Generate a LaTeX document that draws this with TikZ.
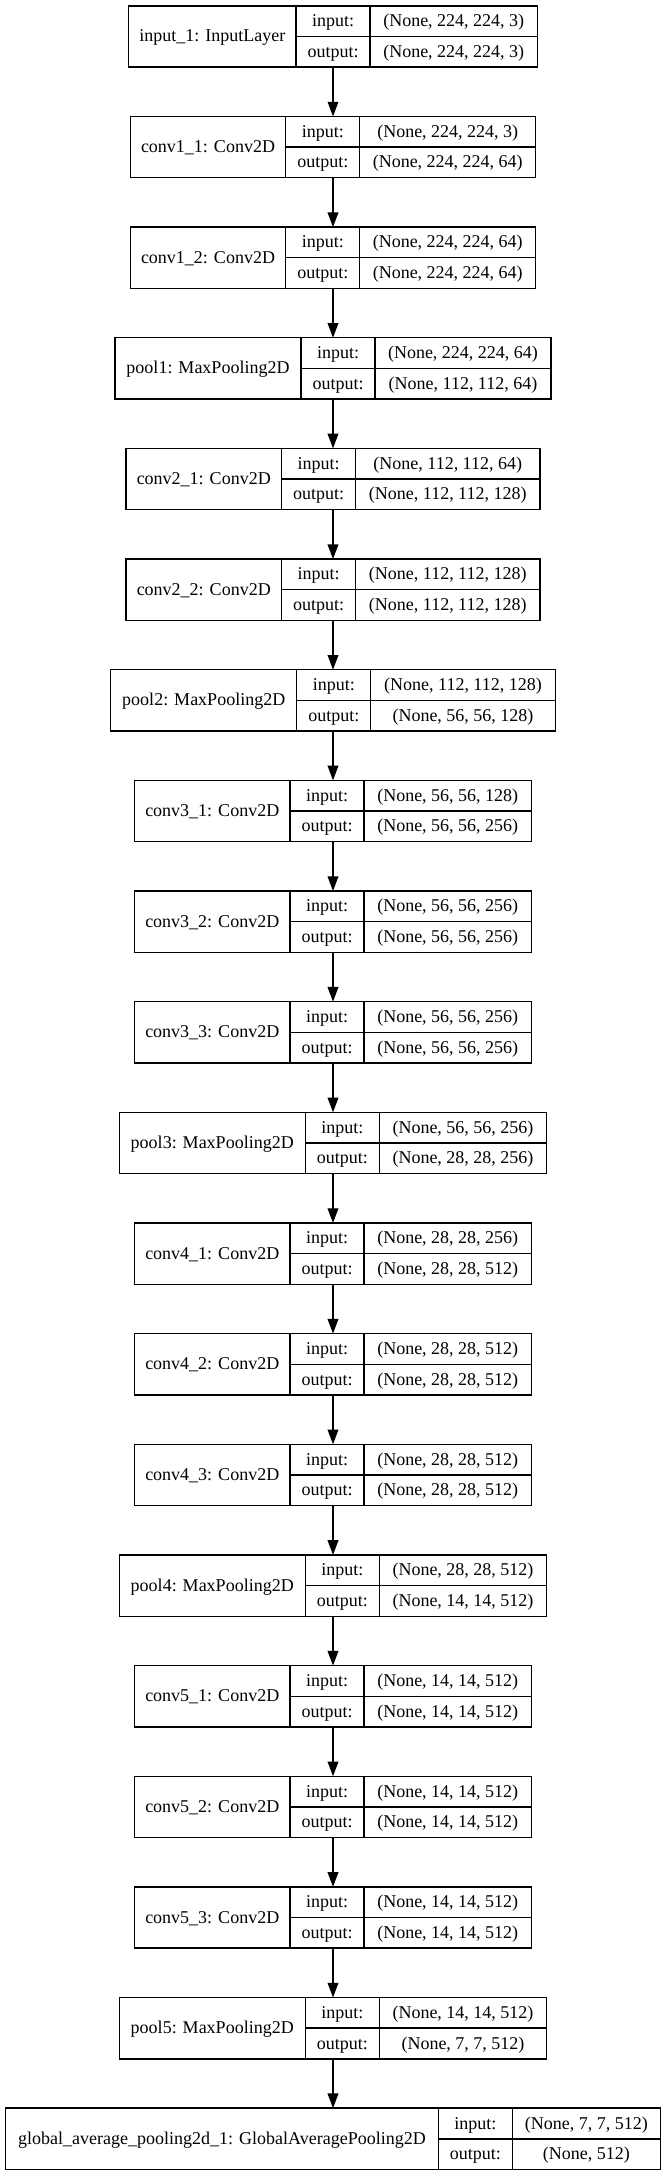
\documentclass[tikz,border=0pt]{standalone}
\usepackage{fontspec}
\setmainfont{Liberation Serif}
\usetikzlibrary{arrows.meta}

\begin{document}
\begin{tikzpicture}[x=1pt,y=-1pt,->,>={Triangle[length=14.7pt,width=10.7pt]},line width=1.4pt,
    font=\fontsize{18}{21.6}\selectfont,
    every node/.style={inner sep=0pt,outer sep=0pt,text height=15pt,text depth=4pt},
    box/.style={draw,minimum height=61.3pt},
    lbl/.style={draw,anchor=north west,minimum height=61.3pt},
    key/.style={draw,anchor=north west,minimum height=30.65pt,minimum width=74pt},
    val/.style={draw,anchor=north west,minimum height=30.65pt}]
                \useasboundingbox (0,0) rectangle (663,2176);
                % input_1
                \node[box,minimum width=409pt](in1)at(333, 36.45){};
                \node[lbl,minimum width=167.5pt](in1l)at(in1.north west){input\_1: InputLayer};
                \node[key](in1a)at(in1l.north east){input:};
                \node[key](in1b)at(in1a.south west){output:};
                \node[val,minimum width=167.5pt](in1c)at(in1a.north east){(None, 224, 224, 3)};
                \node[val,minimum width=167.5pt](in1d)at(in1b.north east){(None, 224, 224, 3)};
                % conv1_1
                \node[box,minimum width=405.5pt](c11)at(333, 147.10){};
                \node[lbl,minimum width=155.5pt](c11l)at(c11.north west){conv1\_1: Conv2D};
                \node[key](c11a)at(c11l.north east){input:};
                \node[key](c11b)at(c11a.south west){output:};
                \node[val,minimum width=176pt](c11c)at(c11a.north east){(None, 224, 224, 3)};
                \node[val,minimum width=176pt](c11d)at(c11b.north east){(None, 224, 224, 64)};
                % conv1_2
                \node[box,minimum width=405.5pt](c12)at(333, 257.75){};
                \node[lbl,minimum width=155.5pt](c12l)at(c12.north west){conv1\_2: Conv2D};
                \node[key](c12a)at(c12l.north east){input:};
                \node[key](c12b)at(c12a.south west){output:};
                \node[val,minimum width=176pt](c12c)at(c12a.north east){(None, 224, 224, 64)};
                \node[val,minimum width=176pt](c12d)at(c12b.north east){(None, 224, 224, 64)};
                % pool1
                \node[box,minimum width=436pt](p1)at(333, 368.40){};
                \node[lbl,minimum width=186pt](p1l)at(p1.north west){pool1: MaxPooling2D};
                \node[key](p1a)at(p1l.north east){input:};
                \node[key](p1b)at(p1a.south west){output:};
                \node[val,minimum width=176pt](p1c)at(p1a.north east){(None, 224, 224, 64)};
                \node[val,minimum width=176pt](p1d)at(p1b.north east){(None, 112, 112, 64)};
                % conv2_1
                \node[box,minimum width=414pt](c21)at(333, 479.05){};
                \node[lbl,minimum width=155.5pt](c21l)at(c21.north west){conv2\_1: Conv2D};
                \node[key](c21a)at(c21l.north east){input:};
                \node[key](c21b)at(c21a.south west){output:};
                \node[val,minimum width=184.5pt](c21c)at(c21a.north east){(None, 112, 112, 64)};
                \node[val,minimum width=184.5pt](c21d)at(c21b.north east){(None, 112, 112, 128)};
                % conv2_2
                \node[box,minimum width=414pt](c22)at(333, 589.70){};
                \node[lbl,minimum width=155.5pt](c22l)at(c22.north west){conv2\_2: Conv2D};
                \node[key](c22a)at(c22l.north east){input:};
                \node[key](c22b)at(c22a.south west){output:};
                \node[val,minimum width=184.5pt](c22c)at(c22a.north east){(None, 112, 112, 128)};
                \node[val,minimum width=184.5pt](c22d)at(c22b.north east){(None, 112, 112, 128)};
                % pool2
                \node[box,minimum width=444.5pt](p2)at(333, 700.35){};
                \node[lbl,minimum width=186pt](p2l)at(p2.north west){pool2: MaxPooling2D};
                \node[key](p2a)at(p2l.north east){input:};
                \node[key](p2b)at(p2a.south west){output:};
                \node[val,minimum width=184.5pt](p2c)at(p2a.north east){(None, 112, 112, 128)};
                \node[val,minimum width=184.5pt](p2d)at(p2b.north east){(None, 56, 56, 128)};
                % conv3_1
                \node[box,minimum width=397pt](c31)at(333, 811.00){};
                \node[lbl,minimum width=155.5pt](c31l)at(c31.north west){conv3\_1: Conv2D};
                \node[key](c31a)at(c31l.north east){input:};
                \node[key](c31b)at(c31a.south west){output:};
                \node[val,minimum width=167.5pt](c31c)at(c31a.north east){(None, 56, 56, 128)};
                \node[val,minimum width=167.5pt](c31d)at(c31b.north east){(None, 56, 56, 256)};
                % conv3_2
                \node[box,minimum width=397pt](c32)at(333, 921.65){};
                \node[lbl,minimum width=155.5pt](c32l)at(c32.north west){conv3\_2: Conv2D};
                \node[key](c32a)at(c32l.north east){input:};
                \node[key](c32b)at(c32a.south west){output:};
                \node[val,minimum width=167.5pt](c32c)at(c32a.north east){(None, 56, 56, 256)};
                \node[val,minimum width=167.5pt](c32d)at(c32b.north east){(None, 56, 56, 256)};
                % conv3_3
                \node[box,minimum width=397pt](c33)at(333, 1032.30){};
                \node[lbl,minimum width=155.5pt](c33l)at(c33.north west){conv3\_3: Conv2D};
                \node[key](c33a)at(c33l.north east){input:};
                \node[key](c33b)at(c33a.south west){output:};
                \node[val,minimum width=167.5pt](c33c)at(c33a.north east){(None, 56, 56, 256)};
                \node[val,minimum width=167.5pt](c33d)at(c33b.north east){(None, 56, 56, 256)};
                % pool3
                \node[box,minimum width=427.5pt](p3)at(333, 1142.95){};
                \node[lbl,minimum width=186pt](p3l)at(p3.north west){pool3: MaxPooling2D};
                \node[key](p3a)at(p3l.north east){input:};
                \node[key](p3b)at(p3a.south west){output:};
                \node[val,minimum width=167.5pt](p3c)at(p3a.north east){(None, 56, 56, 256)};
                \node[val,minimum width=167.5pt](p3d)at(p3b.north east){(None, 28, 28, 256)};
                % conv4_1
                \node[box,minimum width=397pt](c41)at(333, 1253.60){};
                \node[lbl,minimum width=155.5pt](c41l)at(c41.north west){conv4\_1: Conv2D};
                \node[key](c41a)at(c41l.north east){input:};
                \node[key](c41b)at(c41a.south west){output:};
                \node[val,minimum width=167.5pt](c41c)at(c41a.north east){(None, 28, 28, 256)};
                \node[val,minimum width=167.5pt](c41d)at(c41b.north east){(None, 28, 28, 512)};
                % conv4_2
                \node[box,minimum width=397pt](c42)at(333, 1364.25){};
                \node[lbl,minimum width=155.5pt](c42l)at(c42.north west){conv4\_2: Conv2D};
                \node[key](c42a)at(c42l.north east){input:};
                \node[key](c42b)at(c42a.south west){output:};
                \node[val,minimum width=167.5pt](c42c)at(c42a.north east){(None, 28, 28, 512)};
                \node[val,minimum width=167.5pt](c42d)at(c42b.north east){(None, 28, 28, 512)};
                % conv4_3
                \node[box,minimum width=397pt](c43)at(333, 1474.90){};
                \node[lbl,minimum width=155.5pt](c43l)at(c43.north west){conv4\_3: Conv2D};
                \node[key](c43a)at(c43l.north east){input:};
                \node[key](c43b)at(c43a.south west){output:};
                \node[val,minimum width=167.5pt](c43c)at(c43a.north east){(None, 28, 28, 512)};
                \node[val,minimum width=167.5pt](c43d)at(c43b.north east){(None, 28, 28, 512)};
                % pool4
                \node[box,minimum width=427.5pt](p4)at(333, 1585.55){};
                \node[lbl,minimum width=186pt](p4l)at(p4.north west){pool4: MaxPooling2D};
                \node[key](p4a)at(p4l.north east){input:};
                \node[key](p4b)at(p4a.south west){output:};
                \node[val,minimum width=167.5pt](p4c)at(p4a.north east){(None, 28, 28, 512)};
                \node[val,minimum width=167.5pt](p4d)at(p4b.north east){(None, 14, 14, 512)};
                % conv5_1
                \node[box,minimum width=397pt](c51)at(333, 1696.20){};
                \node[lbl,minimum width=155.5pt](c51l)at(c51.north west){conv5\_1: Conv2D};
                \node[key](c51a)at(c51l.north east){input:};
                \node[key](c51b)at(c51a.south west){output:};
                \node[val,minimum width=167.5pt](c51c)at(c51a.north east){(None, 14, 14, 512)};
                \node[val,minimum width=167.5pt](c51d)at(c51b.north east){(None, 14, 14, 512)};
                % conv5_2
                \node[box,minimum width=397pt](c52)at(333, 1806.85){};
                \node[lbl,minimum width=155.5pt](c52l)at(c52.north west){conv5\_2: Conv2D};
                \node[key](c52a)at(c52l.north east){input:};
                \node[key](c52b)at(c52a.south west){output:};
                \node[val,minimum width=167.5pt](c52c)at(c52a.north east){(None, 14, 14, 512)};
                \node[val,minimum width=167.5pt](c52d)at(c52b.north east){(None, 14, 14, 512)};
                % conv5_3
                \node[box,minimum width=397pt](c53)at(333, 1917.50){};
                \node[lbl,minimum width=155.5pt](c53l)at(c53.north west){conv5\_3: Conv2D};
                \node[key](c53a)at(c53l.north east){input:};
                \node[key](c53b)at(c53a.south west){output:};
                \node[val,minimum width=167.5pt](c53c)at(c53a.north east){(None, 14, 14, 512)};
                \node[val,minimum width=167.5pt](c53d)at(c53b.north east){(None, 14, 14, 512)};
                % pool5
                \node[box,minimum width=427.5pt](p5)at(333, 2028.15){};
                \node[lbl,minimum width=186pt](p5l)at(p5.north west){pool5: MaxPooling2D};
                \node[key](p5a)at(p5l.north east){input:};
                \node[key](p5b)at(p5a.south west){output:};
                \node[val,minimum width=167.5pt](p5c)at(p5a.north east){(None, 14, 14, 512)};
                \node[val,minimum width=167.5pt](p5d)at(p5b.north east){(None, 7, 7, 512)};
                % global_average_pooling2d_1
                \node[box,minimum width=654.5pt](gap)at(333, 2138.80){};
                \node[lbl,minimum width=432.5pt](gapl)at(gap.north west){global\_average\_pooling2d\_1: GlobalAveragePooling2D};
                \node[key](gapa)at(gapl.north east){input:};
                \node[key](gapb)at(gapa.south west){output:};
                \node[val,minimum width=148pt](gapc)at(gapa.north east){(None, 7, 7, 512)};
                \node[val,minimum width=148pt](gapd)at(gapb.north east){(None, 512)};
                \path[](in1) edge (c11)
                (c11) edge (c12)
                (c12) edge (p1)
                (p1) edge (c21)
                (c21) edge (c22)
                (c22) edge (p2)
                (p2) edge (c31)
                (c31) edge (c32)
                (c32) edge (c33)
                (c33) edge (p3)
                (p3) edge (c41)
                (c41) edge (c42)
                (c42) edge (c43)
                (c43) edge (p4)
                (p4) edge (c51)
                (c51) edge (c52)
                (c52) edge (c53)
                (c53) edge (p5)
                (p5) edge (gap);
            \end{tikzpicture}
\end{document}
